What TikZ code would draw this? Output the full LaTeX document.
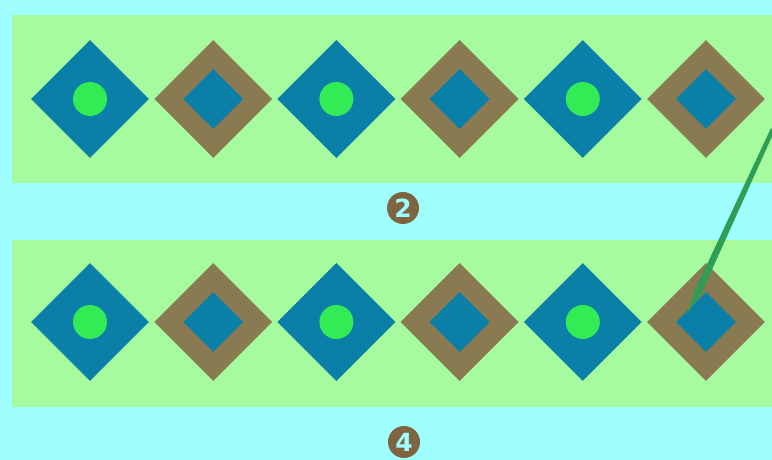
\documentclass[tikz,border=0pt]{standalone}
\usepackage{fontspec}
\newfontfamily\badgefont{DejaVu Sans}
\usepackage{xcolor}
\definecolor{tilebg}{HTML}{9FFEFE}
\definecolor{tileband}{HTML}{A6FB9F}
\definecolor{tileblue}{HTML}{0A7FA8}
\definecolor{tilebrown}{HTML}{8A7A52}
\definecolor{tiledot}{HTML}{33EC55}
\definecolor{tilemark}{HTML}{7E6440}
\definecolor{tilepen}{HTML}{2E9E55}
\usepackage{tikz}
\usetikzlibrary{shapes.geometric,calc}

\begin{document}
\begin{tikzpicture}[
  x=1pt,y=-1pt,
  outer/.style={diamond,aspect=1,inner sep=0pt,minimum width=118pt,minimum height=118pt},
  plain/.style={outer,fill=tileblue},
  framed/.style={outer,fill=tilebrown},
  core/.style={diamond,aspect=1,inner sep=0pt,minimum width=60pt,minimum height=60pt,fill=tileblue},
  dot/.style={circle,inner sep=0pt,minimum size=34pt,fill=tiledot},
  badge/.style={circle,inner sep=0pt,minimum size=32pt,fill=tilemark,text=tilebg,
    font=\badgefont\bfseries\fontsize{25}{25}\selectfont}
]
% background and bands
\useasboundingbox (0,0) rectangle (772,460);
\fill[tilebg] (0,0) rectangle (772,460);
\fill[tileband] (12,15) rectangle (772,183);
\fill[tileband] (12,240) rectangle (772,407);
% upper row
\node[plain] (a1) at (90,99) {};
\node[framed] (a2) at (213.2,99) {};
\node[plain] (a3) at (336.4,99) {};
\node[framed] (a4) at (459.6,99) {};
\node[plain] (a5) at (582.8,99) {};
\node[framed] (a6) at (706,99) {};
\node[dot] (a1d) at (a1.center) {};
\node[core] (a2c) at (a2.center) {};
\node[dot] (a3d) at (a3.center) {};
\node[core] (a4c) at (a4.center) {};
\node[dot] (a5d) at (a5.center) {};
\node[core] (a6c) at (a6.center) {};
% lower row
\node[plain] (b1) at (90,322) {};
\node[framed] (b2) at (213.2,322) {};
\node[plain] (b3) at (336.4,322) {};
\node[framed] (b4) at (459.6,322) {};
\node[plain] (b5) at (582.8,322) {};
\node[framed] (b6) at (706,322) {};
\node[dot] (b1d) at (b1.center) {};
\node[core] (b2c) at (b2.center) {};
\node[dot] (b3d) at (b3.center) {};
\node[core] (b4c) at (b4.center) {};
\node[dot] (b5d) at (b5.center) {};
\node[core] (b6c) at (b6.center) {};
% numbers
\node[badge] (n2) at (403,208) {2};
\node[badge] (n4) at (404,442) {4};
% pointer
\coordinate (pentop) at (771,128);
\coordinate (pentip) at ($(b6c.center)+(-19,-8)$);
\fill[tilepen] (pentop) -- ++(3,4) -- ($(pentip)+(14,-20)$) -- (pentip)
  -- ($(pentip)+(8,-24)$) -- cycle;
\end{tikzpicture}
\end{document}
